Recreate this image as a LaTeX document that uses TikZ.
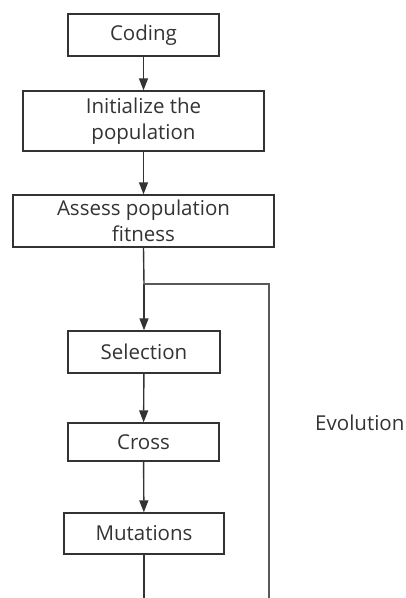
\documentclass[tikz,border=0pt]{standalone}
\usepackage{fontspec}
\setmainfont{Open Sans}
\usetikzlibrary{arrows.meta}
\begin{document}
\begin{tikzpicture}[x=1pt,y=-1pt,
  box/.style={draw=black!80,line width=1.4pt,inner sep=0pt,align=center,text=black!80,
    font=\fontsize{20.5}{26}\selectfont},
  conn/.style={draw=black!80,line width=1.4pt},
  arr/.style={conn,-{Triangle[length=12pt,width=9pt]}}]
\useasboundingbox (0,0) rectangle (406,598);
\node[box,minimum width=151pt,minimum height=42pt] (cod) at (143.5,35) {Coding};
\node[box,minimum width=241pt,minimum height=60pt] (ini) at (143.5,121) {Initialize the\\population};
\node[box,minimum width=261pt,minimum height=52pt] (ass) at (143.5,221) {Assess population\\fitness};
\node[box,minimum width=152pt,minimum height=42pt] (sel) at (144,352) {Selection};
\node[box,minimum width=151pt,minimum height=38pt] (cro) at (143.5,442) {Cross};
\node[box,minimum width=160pt,minimum height=41pt] (mut) at (144,533.5) {Mutations};
\node[text=black!80,font=\fontsize{20.5}{26}\selectfont,anchor=west,inner sep=0pt] (evo) at (315,423) {Evolution};
\coordinate (br) at (144,284);
\coordinate (rt) at (269,284);
\coordinate (rb) at (269,598);
\coordinate (mb) at (144,598);
\draw[arr] (cod) -- (ini);
\draw[arr] (ini) -- (ass);
\draw[conn] (ass.south) -- (br);
\draw[arr] (br) -- (sel);
\draw[arr] (sel) -- (cro);
\draw[arr] (cro) -- (mut);
\draw[conn] (mut.south) -- (mb);
\draw[conn,draw=black!65] (br) -- (rt) -- (rb);
\end{tikzpicture}
\end{document}
